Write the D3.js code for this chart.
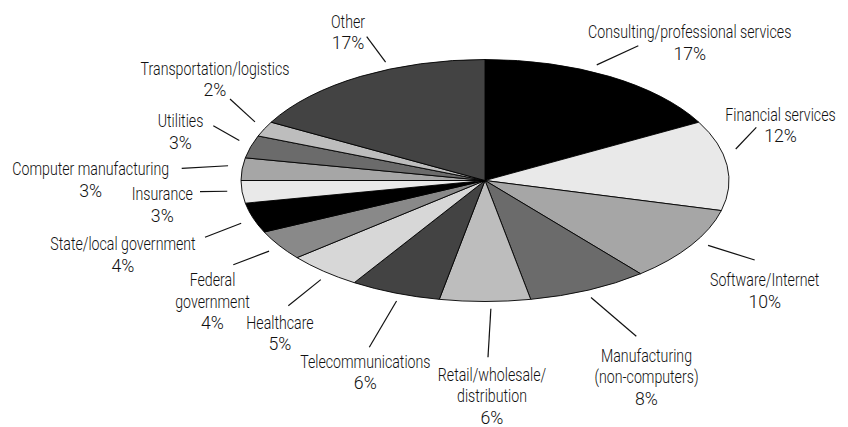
<!DOCTYPE html>
<html>
<head>
<meta charset="utf-8">
<script src="https://cdn.jsdelivr.net/npm/d3@7"></script>
<style>
  html, body { margin: 0; padding: 0; background: #fff; }
  svg { display: block; }
  text { font-family: Roboto, "Liberation Sans", sans-serif; font-size: 18.5px; font-weight: 300; fill: #111; }
</style>
</head>
<body>
<svg id="chart" width="848" height="427"></svg>
<script>
// ---- data ----
const categories = [
  "Consulting/professional services", "Financial services", "Software/Internet",
  "Manufacturing (non-computers)", "Retail/wholesale/distribution", "Telecommunications",
  "Healthcare", "Federal government", "State/local government", "Insurance",
  "Computer manufacturing", "Utilities", "Transportation/logistics", "Other"
];
const values = [17, 12, 10, 8, 6, 6, 5, 4, 4, 3, 3, 3, 2, 17];
const labelLines = [
  ["Consulting/professional services"], ["Financial services"], ["Software/Internet"],
  ["Manufacturing", "(non-computers)"], ["Retail/wholesale/", "distribution"], ["Telecommunications"],
  ["Healthcare"], ["Federal", "government"], ["State/local government"], ["Insurance"],
  ["Computer manufacturing"], ["Utilities"], ["Transportation/logistics"], ["Other"]
];
const colors = ["#000000", "#e9e9e9", "#a6a6a6", "#6b6b6b", "#bdbdbd", "#434343", "#d7d7d7", "#898989"];

// ---- layout (annotation placement) ----
const cx = 485, cy = 180.5, rx = 244, ry = 121;
const labelLayout = [
  { nudge: -5,   ox: 638.3, oy: 45.7,  tx: 689.7, ty: 59.6 },
  { nudge: -7,   ox: 756.3, oy: 127.3, tx: 780.5, ty: 142.2 },
  { nudge: -2,   ox: 754.7, oy: 260,   tx: 764.7, ty: 307.5 },
  { nudge: 1,    ox: 636.3, oy: 336.3, tx: 646.5, ty: 404.5 },
  { nudge: -1.3, ox: 488,   oy: 357.3, tx: 492,   ty: 423.6 },
  { nudge: -1.6, ox: 369.3, oy: 347.3, tx: 365.3, ty: 389 },
  { nudge: -2,   ox: 288.3, oy: 305.7, tx: 280,   ty: 350.2 },
  { nudge: -1,   ox: 233.3, oy: 264.7, tx: 212.5, ty: 329.2 },
  { nudge: -1.5, ox: 205,   oy: 237.3, tx: 123,   ty: 271.9 },
  { nudge: 0.6,  ox: 200,   oy: 191.7, tx: 162.3, ty: 221.5 },
  { nudge: 1.2,  ox: 181.7, oy: 168.3, tx: 90.7,  ty: 196.9 },
  { nudge: 2,    ox: 213.3, oy: 125.7, tx: 180.5, ty: 148.9 },
  { nudge: 2,    ox: 230,   oy: 99,    tx: 215,   ty: 96.2 },
  { nudge: 8,    ox: 366.7, oy: 36.7,  tx: 348,   ty: 49.4 }
];
const lineH = 21.5;

const data = categories.map((c, i) => ({ name: c, value: values[i], lines: labelLines[i], i }));

const svg = d3.select("#chart");
const pie = d3.pie().value(d => d.value).sort(null);
const arcs = pie(data);
const arc = d3.arc().innerRadius(0).outerRadius(rx);
const color = d3.scaleOrdinal().domain(d3.range(colors.length)).range(colors);

const g = svg.append("g").attr("transform", `translate(${cx},${cy}) scale(1,${ry / rx})`);
g.selectAll("path.slice").data(arcs).join("path")
  .attr("class", "slice")
  .attr("d", arc)
  .attr("fill", d => color(d.index % colors.length))
  .attr("stroke", "#000")
  .attr("stroke-width", 0.9)
  .attr("stroke-linejoin", "round")
  .attr("vector-effect", "non-scaling-stroke");

// condensed look: measure reference strings and squeeze horizontally
function measure(s) {
  const p = svg.append("text").text(s);
  const w = p.node().getComputedTextLength();
  p.remove();
  return w;
}
const sxName = 157 / measure("Computer manufacturing");
const sxPct = 32.7 / measure("17%");

// leader lines + labels
const k = 1.06;
const ann = svg.append("g");
arcs.forEach((a, i) => {
  const L = labelLayout[i];
  const mid = (a.startAngle + a.endAngle) / 2 + L.nudge * Math.PI / 180;
  const x1 = cx + k * rx * Math.sin(mid);
  const y1 = cy - k * ry * Math.cos(mid);
  ann.append("line")
    .attr("x1", x1).attr("y1", y1).attr("x2", L.ox).attr("y2", L.oy)
    .attr("stroke", "#111").attr("stroke-width", 1.2);
  const lines = a.data.lines.concat([a.data.value + "%"]);
  const n = lines.length;
  const grp = ann.append("g").attr("class", "label");
  lines.forEach((s, j) => {
    const isPct = j === n - 1;
    grp.append("g")
      .attr("transform", `translate(${L.tx},${L.ty - (n - 1 - j) * lineH}) scale(${isPct ? sxPct : sxName},1)`)
      .append("text")
      .attr("text-anchor", "middle")
      .text(s);
  });
});
</script>
</body>
</html>
